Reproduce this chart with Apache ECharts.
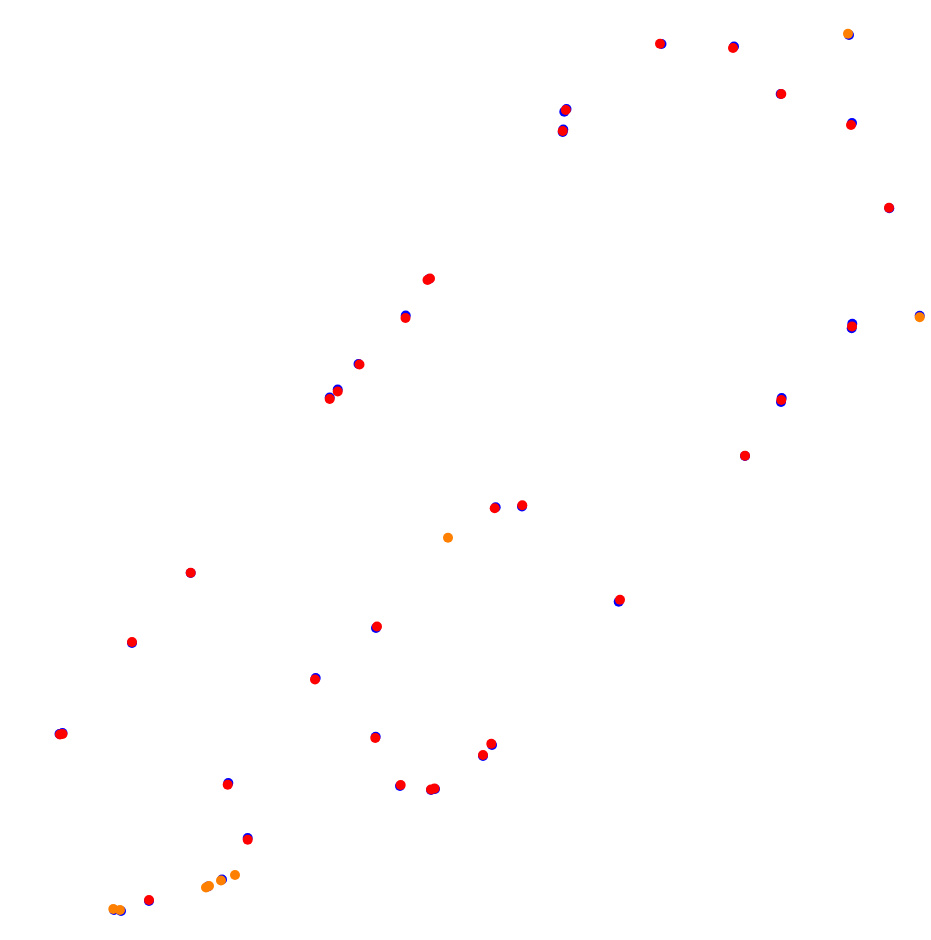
<!DOCTYPE html>
<html>
<head>
<meta charset="utf-8">
<script src="https://cdn.jsdelivr.net/npm/echarts@6/dist/echarts.min.js"></script>
<style>html,body{margin:0;padding:0;background:#fff}#c{width:931px;height:940px}</style>
</head>
<body>
<div id="c"></div>
<script>
const bluePoints = [
  [429,279],[405.7,315.5],[358.5,364],[337.7,389.5],[329.7,397.5],
  [661.5,44],[734,46.5],[849,35],[780.7,94],[566.5,109],[564.3,111.7],
  [563.3,129.5],[562.7,132],[852,123],[889.3,208.3],[852.3,323.7],[851.7,328.3],
  [919.7,315.7],[781.7,398],[781,402],[745,456],[190.7,573],
  [376,628],[132,643],[315.7,678],[59.5,734],[62.5,733],[375.7,736.7],
  [228.3,783],[400,786],[431,790],[435,789],[247.7,838],[222,879.5],
  [208,886.5],[149,901],[114,910],[121,911],
  [495.7,507.3],[522,506.5],[618.7,601.7],[492,745],[483,756]
];
const orangePoints = [
  [848,33.7],[919.7,317.3],[448,537.7],[235,875],[221,880.5],
  [206,887.5],[209,886],[113.3,909],[120,910]
];
const redPoints = [
  [427.5,280],[430,278.5],[405.5,318],[359.5,364.5],[337.7,391.5],[329.7,399],
  [660,43.7],[733,48],[781.3,94],[565.8,110],[562.7,131],[851,125],
  [889,207.7],[852,326.5],[781.3,400],[745,455.7],[190.7,572.7],
  [377,626.5],[132,642],[315,679.5],[60,734.5],[62.5,734],[375.3,738],
  [227.7,784.7],[400.7,785],[431,789.5],[434.5,788.5],[247.7,839.7],
  [149,900],[494.7,508.3],[522.3,505.3],[620,599.7],[491.3,743.7],[483,755]
];
const chart = echarts.init(document.getElementById('c'));
chart.setOption({
  animation: false,
  backgroundColor: '#ffffff',
  grid: {left: 0, right: 0, top: 0, bottom: 0},
  xAxis: {type: 'value', min: 0, max: 931, show: false},
  yAxis: {type: 'value', min: 0, max: 940, inverse: true, show: false},
  series: [
    {type: 'scatter', data: bluePoints, symbolSize: 10, itemStyle: {color: '#0000ff', opacity: 1}},
    {type: 'scatter', data: orangePoints, symbolSize: 10, itemStyle: {color: '#ff8000', opacity: 1}},
    {type: 'scatter', data: redPoints, symbolSize: 10, itemStyle: {color: '#ff0000', opacity: 1}}
  ]
});
</script>
</body>
</html>
